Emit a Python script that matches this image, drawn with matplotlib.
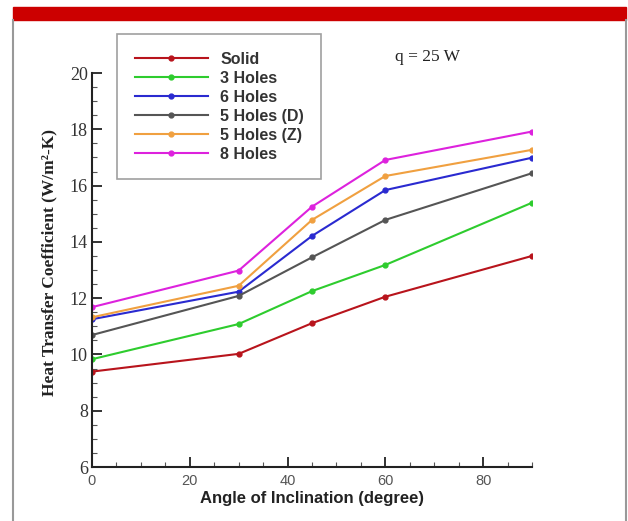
import matplotlib
matplotlib.use("Agg")
import matplotlib.pyplot as plt
from matplotlib.patches import Rectangle
from matplotlib.lines import Line2D
from matplotlib.ticker import MultipleLocator

angles = [0, 30, 45, 60, 90]
solid = [9.39, 10.02, 11.11, 12.05, 13.50]
holes3 = [9.83, 11.08, 12.25, 13.18, 15.39]
holes6 = [11.25, 12.23, 14.21, 15.84, 16.99]
holes5d = [10.69, 12.08, 13.45, 14.78, 16.44]
holes5z = [11.32, 12.44, 14.78, 16.34, 17.27]
holes8 = [11.68, 12.98, 15.25, 16.91, 17.92]

labels = ["Solid", "3 Holes", "6 Holes", "5 Holes (D)", "5 Holes (Z)", "8 Holes"]
series = [solid, holes3, holes6, holes5d, holes5z, holes8]
colors = ["#b8141c", "#2ecc2e", "#2a2ad0", "#555555", "#f0a040", "#dd22dd"]

W, H = 628, 521
fig = plt.figure(figsize=(W / 100, H / 100), dpi=100)
fig.patch.set_facecolor("white")

# top red bar and frame lines
fig.patches.append(Rectangle((13 / W, 1 - 20 / H), (626 - 13) / W, 13 / H,
                             transform=fig.transFigure, color="#cc0000", zorder=0))
fig.add_artist(Line2D([13 / W, 13 / W], [0, 1 - 20 / H], transform=fig.transFigure,
                      color="#999999", lw=1.5))
fig.add_artist(Line2D([626 / W, 626 / W], [0, 1 - 20 / H], transform=fig.transFigure,
                      color="#999999", lw=1.5))

ax = fig.add_axes([92 / W, 1 - 467 / H, (532 - 92) / W, (467 - 73) / H])
for lab, ys, c in zip(labels, series, colors):
    ax.plot(angles, ys, color=c, lw=1.5, marker="o", ms=3.5, label=lab)

ax.set_xlim(0, 90)
ax.set_ylim(6, 20)
ax.xaxis.set_major_locator(MultipleLocator(20))
ax.xaxis.set_minor_locator(MultipleLocator(5))
ax.yaxis.set_major_locator(MultipleLocator(2))
ax.yaxis.set_minor_locator(MultipleLocator(0.5))
ax.spines["top"].set_visible(False)
ax.spines["right"].set_visible(False)
for s in ("left", "bottom"):
    ax.spines[s].set_linewidth(1.5)
    ax.spines[s].set_color("#222222")
ax.tick_params(which="major", direction="in", length=7, width=1.3, colors="#222222")
ax.tick_params(which="minor", direction="in", length=3.5, width=0.8, colors="#555555")
ax.tick_params(axis="x", labelsize=10.5, labelcolor="#555555", pad=5)
ax.tick_params(axis="y", labelsize=13, labelcolor="#333333", pad=3)
for t in ax.get_yticklabels():
    t.set_fontfamily("Liberation Serif")
for t in ax.get_xticklabels():
    t.set_fontfamily("Liberation Sans")

ax.set_xlabel("Angle of Inclination (degree)", fontsize=12, fontweight="bold",
              family="Liberation Sans", color="#222222", labelpad=2)
ax.set_ylabel("Heat Transfer Coefficient (W/m²-K)", fontsize=12.5, fontweight="bold",
              family="Liberation Serif", color="#222222", labelpad=3)
ax.yaxis.set_label_coords(-0.078, 0.52)

leg = ax.legend(loc="upper left", bbox_to_anchor=(117 / W, 1 - 34 / H),
                bbox_transform=fig.transFigure, fancybox=False, frameon=True,
                edgecolor="#888888", handlelength=4.6, handletextpad=0.75,
                borderpad=1.1, labelspacing=0.25, borderaxespad=0,
                prop={"family": "Liberation Sans", "weight": "bold", "size": 11.5})
leg.get_frame().set_linewidth(1.2)
for t in leg.get_texts():
    t.set_color("#333333")

fig.text(395 / W, 1 - 57 / H, "q = 25 W", fontsize=12.5, family="Liberation Serif",
         color="#222222", va="center", ha="left")

fig.savefig("out.png", dpi=100, facecolor="white")
